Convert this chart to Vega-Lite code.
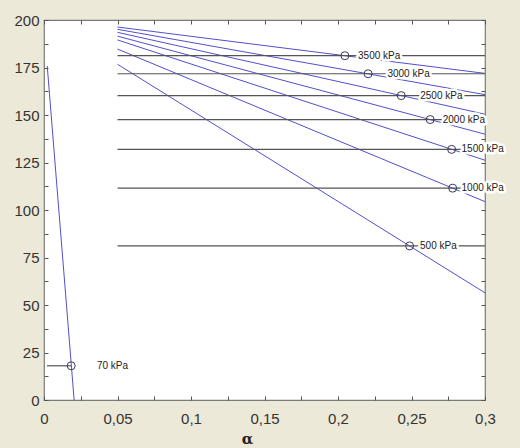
{
  "$schema": "https://vega.github.io/schema/vega-lite/v6.json",
  "width": 441,
  "height": 380,
  "autosize": {"type": "none"},
  "padding": {"left": 44, "top": 20, "right": 35, "bottom": 48},
  "background": "#ECE9D8",
  "config": {
    "view": {"fill": "white", "stroke": "#7a7a7a", "strokeWidth": 1.2},
    "axis": {
      "domain": false,
      "grid": false,
      "tickSize": -4,
      "tickColor": "#555555",
      "labelFont": "Liberation Sans",
      "labelFontSize": 15,
      "labelColor": "#333333",
      "labelFlush": false,
      "labelOverlap": false
    }
  },
  "datasets": {
    "curves": [
      {"series": "3500", "x": 0.05, "y": 196.3}, {"series": "3500", "x": 0.3, "y": 171.9},
      {"series": "3000", "x": 0.05, "y": 195.1}, {"series": "3000", "x": 0.3, "y": 160.7},
      {"series": "2500", "x": 0.05, "y": 193.5}, {"series": "2500", "x": 0.3, "y": 150.4},
      {"series": "2000", "x": 0.05, "y": 191.5}, {"series": "2000", "x": 0.3, "y": 139.9},
      {"series": "1500", "x": 0.05, "y": 189.5}, {"series": "1500", "x": 0.3, "y": 126.2},
      {"series": "1000", "x": 0.05, "y": 184.7}, {"series": "1000", "x": 0.3, "y": 104.4},
      {"series": "500", "x": 0.05, "y": 176.7}, {"series": "500", "x": 0.3, "y": 56.4},
      {"series": "70", "x": 0.0022, "y": 175.8}, {"series": "70", "x": 0.0205, "y": 0}
    ],
    "levels": [
      {"series": "3500", "x": 0.05, "y": 181.2}, {"series": "3500", "x": 0.3, "y": 181.2},
      {"series": "3000", "x": 0.05, "y": 171.7}, {"series": "3000", "x": 0.3, "y": 171.7},
      {"series": "2500", "x": 0.05, "y": 160.2}, {"series": "2500", "x": 0.3, "y": 160.2},
      {"series": "2000", "x": 0.05, "y": 147.6}, {"series": "2000", "x": 0.3, "y": 147.6},
      {"series": "1500", "x": 0.05, "y": 131.9}, {"series": "1500", "x": 0.3, "y": 131.9},
      {"series": "1000", "x": 0.05, "y": 111.5}, {"series": "1000", "x": 0.3, "y": 111.5},
      {"series": "500", "x": 0.05, "y": 81.1}, {"series": "500", "x": 0.3, "y": 81.1},
      {"series": "70", "x": 0.002, "y": 18}, {"series": "70", "x": 0.0185, "y": 18}
    ],
    "points": [
      {"x": 0.2047, "y": 181.2}, {"x": 0.2205, "y": 171.7}, {"x": 0.243, "y": 160.2},
      {"x": 0.2627, "y": 147.6}, {"x": 0.2773, "y": 131.9}, {"x": 0.278, "y": 111.5},
      {"x": 0.2487, "y": 81.1}, {"x": 0.0185, "y": 18}
    ],
    "labels": [
      {"x": 0.228, "y": 181.2, "label": "3500 kPa"},
      {"x": 0.248, "y": 171.7, "label": "3000 kPa"},
      {"x": 0.2703, "y": 160.2, "label": "2500 kPa"},
      {"x": 0.2856, "y": 147.6, "label": "2000 kPa"},
      {"x": 0.2984, "y": 131.9, "label": "1500 kPa"},
      {"x": 0.2984, "y": 111.5, "label": "1000 kPa"},
      {"x": 0.2683, "y": 81.1, "label": "500 kPa"},
      {"x": 0.0466, "y": 18, "label": "70 kPa"}
    ]
  },
  "layer": [
    {
      "data": {"name": "curves"},
      "mark": {"type": "line", "color": "#5050cc", "strokeWidth": 1},
      "encoding": {
        "x": {
          "field": "x", "type": "quantitative",
          "scale": {"domain": [0, 0.3], "nice": false, "zero": false},
          "axis": {
            "orient": "bottom",
            "values": [0, 0.025, 0.05, 0.075, 0.1, 0.125, 0.15, 0.175, 0.2, 0.225, 0.25, 0.275, 0.3],
            "labelExpr": "round(datum.value * 1000) % 50 == 0 ? replace(format(datum.value, '.2~f'), '.', ',') : ''",
            "labelPadding": 15,
            "title": "α",
            "titleFont": "DejaVu Serif",
            "titleFontSize": 15,
            "titleFontWeight": "bold",
            "titleColor": "#222222",
            "titleX": 203,
            "titleY": 38,
            "titleBaseline": "middle"
          }
        },
        "y": {
          "field": "y", "type": "quantitative",
          "scale": {"domain": [0, 200], "nice": false, "zero": false},
          "axis": {
            "orient": "left",
            "values": [0, 12.5, 25, 37.5, 50, 62.5, 75, 87.5, 100, 112.5, 125, 137.5, 150, 162.5, 175, 187.5, 200],
            "labelExpr": "round(datum.value * 10) % 250 == 0 ? datum.label : ''",
            "labelPadding": 9,
            "title": null
          }
        },
        "detail": {"field": "series"}
      }
    },
    {
      "data": {"name": "levels"},
      "mark": {"type": "line", "color": "#555555", "strokeWidth": 1.2},
      "encoding": {
        "x": {
          "field": "x", "type": "quantitative",
          "scale": {"domain": [0, 0.3], "nice": false, "zero": false},
          "axis": {
            "orient": "top",
            "values": [0, 0.025, 0.05, 0.075, 0.1, 0.125, 0.15, 0.175, 0.2, 0.225, 0.25, 0.275, 0.3],
            "labels": false,
            "title": null
          }
        },
        "y": {
          "field": "y", "type": "quantitative",
          "scale": {"domain": [0, 200], "nice": false, "zero": false},
          "axis": {
            "orient": "right",
            "values": [0, 12.5, 25, 37.5, 50, 62.5, 75, 87.5, 100, 112.5, 125, 137.5, 150, 162.5, 175, 187.5, 200],
            "labels": false,
            "title": null
          }
        },
        "detail": {"field": "series"}
      }
    },
    {
      "data": {"name": "points"},
      "mark": {"type": "point", "shape": "circle", "filled": false, "size": 64, "stroke": "#3c3c5a", "strokeWidth": 1, "opacity": 1},
      "encoding": {
        "x": {"field": "x", "type": "quantitative", "axis": null},
        "y": {"field": "y", "type": "quantitative", "axis": null}
      }
    },
    {
      "data": {"name": "labels"},
      "mark": {"type": "text", "font": "Liberation Sans", "fontSize": 10, "align": "center", "baseline": "middle", "fill": "white", "stroke": "white", "strokeWidth": 5, "strokeJoin": "round"},
      "encoding": {
        "x": {"field": "x", "type": "quantitative", "axis": null},
        "y": {"field": "y", "type": "quantitative", "axis": null},
        "text": {"field": "label"}
      }
    },
    {
      "data": {"name": "labels"},
      "mark": {"type": "text", "font": "Liberation Sans", "fontSize": 10, "align": "center", "baseline": "middle", "color": "#222222"},
      "encoding": {
        "x": {"field": "x", "type": "quantitative", "axis": null},
        "y": {"field": "y", "type": "quantitative", "axis": null},
        "text": {"field": "label"}
      }
    }
  ],
  "resolve": {"axis": {"x": "independent", "y": "independent"}}
}
